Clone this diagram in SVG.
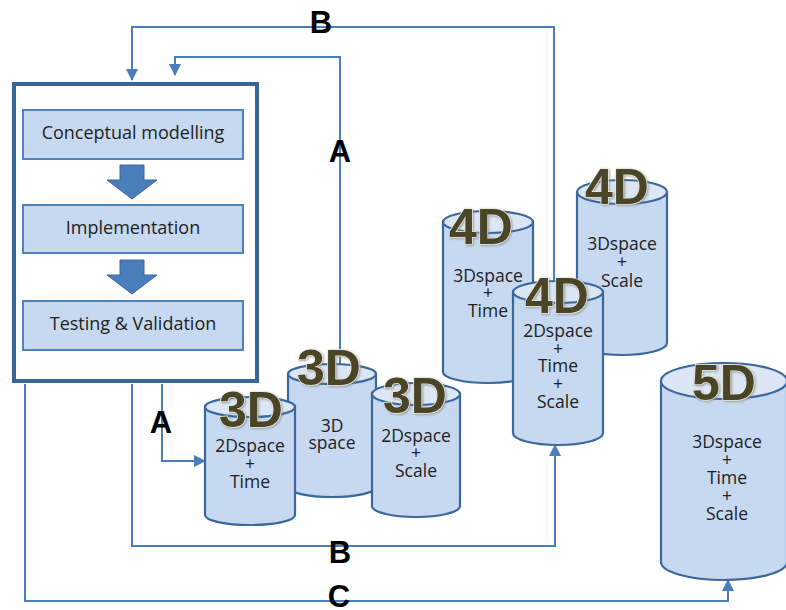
<svg xmlns="http://www.w3.org/2000/svg" width="786" height="610" viewBox="0 0 786 610">
<defs>
<marker id="ah" markerUnits="userSpaceOnUse" markerWidth="12" markerHeight="12" viewBox="0 0 12 12" refX="11" refY="6" orient="auto">
<path d="M0,0 L12,6 L0,12 Z" fill="#4A7EBB"/>
</marker>
<filter id="glow" x="-20%" y="-20%" width="140%" height="140%">
<feDropShadow dx="1" dy="1" stdDeviation="1" flood-color="#888" flood-opacity="0.8"/>
</filter>
</defs>
<style>
.conn{fill:none;stroke:#4A7EBB;stroke-width:2}
.step{fill:#C6D9F1;stroke:#4F81BD;stroke-width:2}
.stept{font-family:"Open Sans","Noto Sans",sans-serif;font-size:18px;fill:#222;text-anchor:middle}
.cylb{fill:#C6D9F1;stroke:#3A679C;stroke-width:2.2}
.cylt{fill:#DCE6F4;stroke:#3A679C;stroke-width:2.2}
.ct{font-family:"Open Sans","Noto Sans",sans-serif;font-size:17.5px;fill:#222;text-anchor:middle}
.big{font-family:"Liberation Sans",Arial,sans-serif;font-weight:bold;font-size:50px;fill:#4A4527;text-anchor:middle;stroke:#E8E8E0;stroke-width:1.5;paint-order:stroke;filter:url(#glow)}
.lbl{font-family:"Liberation Sans",Arial,sans-serif;font-weight:bold;font-size:31px;fill:#000;text-anchor:middle}
.barrow{fill:#4A7EBB;stroke:#3A679C;stroke-width:1}
</style>

<g id="connectors">
<path class="conn" d="M554,281 V27 H132 V80" marker-end="url(#ah)"/>
<path class="conn" d="M340,365 V57 H175 V75" marker-end="url(#ah)"/>
<path class="conn" d="M162,384 V461 H205" marker-end="url(#ah)"/>
<path class="conn" d="M132,384 V546 H555 V445" marker-end="url(#ah)"/>
<path class="conn" d="M25,384 V601 H728 V580" marker-end="url(#ah)"/>
</g>

<g id="process">
<rect x="14" y="84" width="243" height="297" fill="#fff" stroke="#3A6595" stroke-width="4"/>
<g id="step-conceptual">
<rect class="step" x="23" y="110" width="220" height="49"/>
<text class="stept" x="133" y="139">Conceptual modelling</text>
</g>
<path class="barrow" d="M120,165 H144 V180 H157 L132,199 L107,180 H120 Z"/>
<g id="step-implementation">
<rect class="step" x="23" y="205" width="220" height="48"/>
<text class="stept" x="133" y="234">Implementation</text>
</g>
<path class="barrow" d="M120,260 H144 V275 H157 L132,294 L107,275 H120 Z"/>
<g id="step-testing">
<rect class="step" x="23" y="301" width="220" height="49"/>
<text class="stept" x="133" y="330">Testing &amp; Validation</text>
</g>
</g>

<g id="cyl-3d-space">
<path class="cylb" d="M288,374 V487 A44,10 0 0 0 376,487 V374 Z"/>
<ellipse class="cylt" cx="332" cy="374" rx="44" ry="10"/>
<text class="ct" x="332" y="432">3D</text>
<text class="ct" x="332" y="449">space</text>
<text class="big" x="329" y="385">3D</text>
</g>

<g id="cyl-3d-2dspace-time">
<path class="cylb" d="M205,407 V515 A45,10 0 0 0 295,515 V407 Z"/>
<ellipse class="cylt" cx="250" cy="407" rx="45" ry="10"/>
<text class="ct" x="250" y="452">2Dspace</text>
<text class="ct" x="250" y="470">+</text>
<text class="ct" x="250" y="488">Time</text>
<text class="big" x="251" y="427">3D</text>
</g>

<g id="cyl-3d-2dspace-scale">
<path class="cylb" d="M372,394 V506 A44,11 0 0 0 460,506 V394 Z"/>
<ellipse class="cylt" cx="416" cy="394" rx="44" ry="11"/>
<text class="ct" x="416" y="442">2Dspace</text>
<text class="ct" x="416" y="459">+</text>
<text class="ct" x="416" y="477">Scale</text>
<text class="big" x="415" y="413">3D</text>
</g>

<g id="cyl-4d-3dspace-time">
<path class="cylb" d="M443,222 V372 A45,11 0 0 0 533,372 V222 Z"/>
<ellipse class="cylt" cx="488" cy="222" rx="45" ry="11"/>
<text class="ct" x="488" y="282">3Dspace</text>
<text class="ct" x="488" y="299">+</text>
<text class="ct" x="488" y="317">Time</text>
<text class="big" x="481" y="244">4D</text>
</g>

<g id="cyl-4d-3dspace-scale">
<path class="cylb" d="M577,192 V343 A45,12 0 0 0 667,343 V192 Z"/>
<ellipse class="cylt" cx="622" cy="192" rx="45" ry="12"/>
<text class="ct" x="622" y="250">3Dspace</text>
<text class="ct" x="622" y="268">+</text>
<text class="ct" x="622" y="287">Scale</text>
<text class="big" x="617" y="204">4D</text>
</g>

<g id="cyl-4d-2dspace-time-scale">
<path class="cylb" d="M513,292 V433 A45,12 0 0 0 603,433 V292 Z"/>
<ellipse class="cylt" cx="558" cy="292" rx="45" ry="11"/>
<text class="ct" x="558" y="337">2Dspace</text>
<text class="ct" x="558" y="355">+</text>
<text class="ct" x="558" y="372">Time</text>
<text class="ct" x="558" y="390">+</text>
<text class="ct" x="558" y="408">Scale</text>
<text class="big" x="557" y="313">4D</text>
</g>

<g id="cyl-5d">
<path class="cylb" d="M661,381 V562 A63,18 0 0 0 787,562 V381 Z"/>
<ellipse class="cylt" cx="724" cy="381" rx="63" ry="18"/>
<text class="ct" x="727" y="448">3Dspace</text>
<text class="ct" x="727" y="466">+</text>
<text class="ct" x="727" y="484">Time</text>
<text class="ct" x="727" y="502">+</text>
<text class="ct" x="727" y="520">Scale</text>
<text class="big" x="724" y="400">5D</text>
</g>

<g id="labels">
<text class="lbl" x="321" y="33">B</text>
<text class="lbl" x="340" y="162">A</text>
<text class="lbl" x="161" y="433">A</text>
<text class="lbl" x="340" y="563">B</text>
<text class="lbl" x="339" y="607">C</text>
</g>
</svg>
